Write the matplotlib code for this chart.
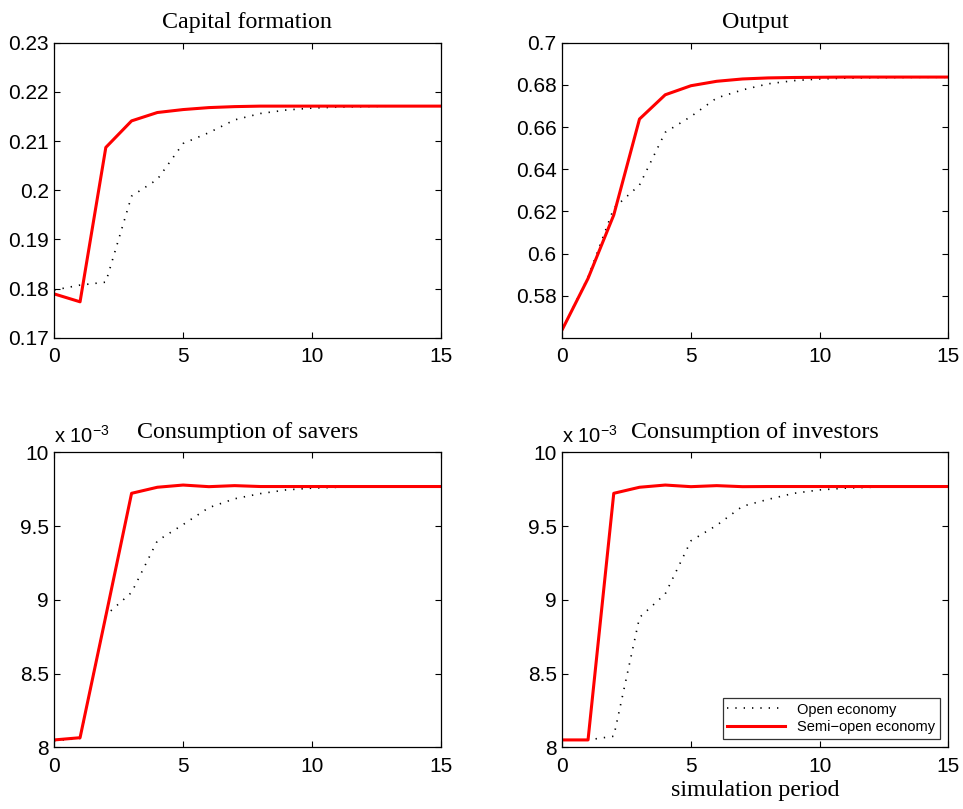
import matplotlib
matplotlib.use("Agg")
import matplotlib.pyplot as plt
from matplotlib.ticker import FixedLocator, FuncFormatter
from matplotlib.lines import Line2D

# ---------------- data ----------------
periods = list(range(16))

capital_open = [0.1797, 0.1807, 0.1813, 0.1988, 0.2022, 0.2095, 0.2117, 0.2143,
                0.2156, 0.2163, 0.2167, 0.2169, 0.2170, 0.2171, 0.2171, 0.2171]
capital_semi = [0.1789, 0.1773, 0.2087, 0.2141, 0.2158, 0.2164, 0.2168, 0.2170,
                0.2171, 0.2171, 0.2171, 0.2171, 0.2171, 0.2171, 0.2171, 0.2171]

output_open = [0.5640, 0.5888, 0.6215, 0.6325, 0.6575, 0.6650, 0.6738, 0.6776,
               0.6805, 0.6820, 0.6828, 0.6832, 0.6834, 0.6835, 0.6836, 0.6836]
output_semi = [0.5640, 0.5882, 0.6183, 0.6638, 0.6753, 0.6796, 0.6817, 0.6828,
               0.6833, 0.6835, 0.6836, 0.6837, 0.6837, 0.6837, 0.6837, 0.6837]

# consumption values in units of 10^-3
savers_open = [8.045, 8.060, 8.895, 9.050, 9.400, 9.510, 9.625, 9.685,
               9.720, 9.745, 9.757, 9.763, 9.766, 9.767, 9.767, 9.767]
savers_semi = [8.050, 8.065, 8.890, 9.722, 9.763, 9.778, 9.767, 9.774,
               9.768, 9.768, 9.768, 9.768, 9.768, 9.768, 9.768, 9.768]

investors_open = [8.050, 8.050, 8.075, 8.880, 9.040, 9.400, 9.505, 9.634,
                  9.681, 9.722, 9.745, 9.757, 9.763, 9.766, 9.767, 9.767]
investors_semi = [8.050, 8.050, 9.722, 9.763, 9.778, 9.767, 9.774, 9.767,
                  9.768, 9.768, 9.768, 9.768, 9.768, 9.768, 9.768, 9.768]

titles = ["Capital formation", "Output", "Consumption of savers", "Consumption of investors"]
x_ticks = [0, 5, 10, 15]
capital_ticks = [0.17, 0.18, 0.19, 0.20, 0.21, 0.22, 0.23]
output_ticks = [0.58, 0.60, 0.62, 0.64, 0.66, 0.68, 0.70]
cons_ticks = [8, 8.5, 9, 9.5, 10]
legend_labels = ["Open economy", "Semi\u2212open economy"]
xlabel_text = "simulation period"

# ---------------- figure ----------------
plt.rcParams["font.family"] = ["Liberation Sans", "DejaVu Sans"]
fig = plt.figure(figsize=(9.63, 8.09), dpi=100, facecolor="white")

W, H = 963.0, 809.0
def pos(left, top, right, bottom):
    return [left / W, 1 - bottom / H, (right - left) / W, (bottom - top) / H]

ax_pos = [pos(54.3, 42.7, 440.7, 337.7), pos(562.3, 42.7, 948.3, 337.7),
          pos(54.3, 452.3, 440.7, 747.3), pos(562.3, 452.3, 948.3, 747.3)]

panels = [
    (capital_open, capital_semi, (0.17, 0.23), capital_ticks, False),
    (output_open, output_semi, (0.5601, 0.70), output_ticks, False),
    (savers_open, savers_semi, (8, 10), cons_ticks, True),
    (investors_open, investors_semi, (8, 10), cons_ticks, True),
]

fmt = FuncFormatter(lambda v, p: "%g" % round(v, 4))
serif = ["Liberation Serif", "DejaVu Serif"]
dot_style = (0, (0.8, 4.2))

axes = []
for i, (op, sm, ylim, yt, expo) in enumerate(panels):
    ax = fig.add_axes(ax_pos[i])
    ax.plot(periods, op, color="black", lw=1.2, linestyle=dot_style,
            dash_capstyle="butt")
    ax.plot(periods, sm, color="#ff0000", lw=2.2)
    ax.set_xlim(0, 15)
    ax.set_ylim(*ylim)
    ax.xaxis.set_major_locator(FixedLocator(x_ticks))
    ax.yaxis.set_major_locator(FixedLocator(yt))
    ax.yaxis.set_major_formatter(fmt)
    ax.tick_params(direction="in", length=4, width=0.8, top=True, right=True,
                   labelsize=15, colors="black")
    ax.tick_params(axis="x", pad=7)
    ax.tick_params(axis="y", pad=4)
    for s in ax.spines.values():
        s.set_linewidth(0.9)
        s.set_color("black")
    ax.set_title(titles[i], fontsize=17.3, family=serif, pad=10.5)
    if expo:
        ax.text(0.0, 1.02, r"x 10$^{\mathregular{-3}}$", transform=ax.transAxes,
                ha="left", va="bottom", fontsize=14.5)
    axes.append(ax)

axes[3].set_xlabel(xlabel_text, fontsize=17.3, family=serif, labelpad=3)

handles = [Line2D([], [], color="black", lw=1.2, linestyle=dot_style),
           Line2D([], [], color="#ff0000", lw=2.2)]
leg = axes[3].legend(handles, legend_labels, loc="lower right", fontsize=10.5,
                     handlelength=4.0, frameon=True, fancybox=False,
                     borderaxespad=0.6, borderpad=0.3, labelspacing=0.25,
                     handletextpad=0.8)
leg.get_frame().set_edgecolor("black")
leg.get_frame().set_linewidth(0.9)

fig.savefig("out.png", dpi=100, facecolor="white")
